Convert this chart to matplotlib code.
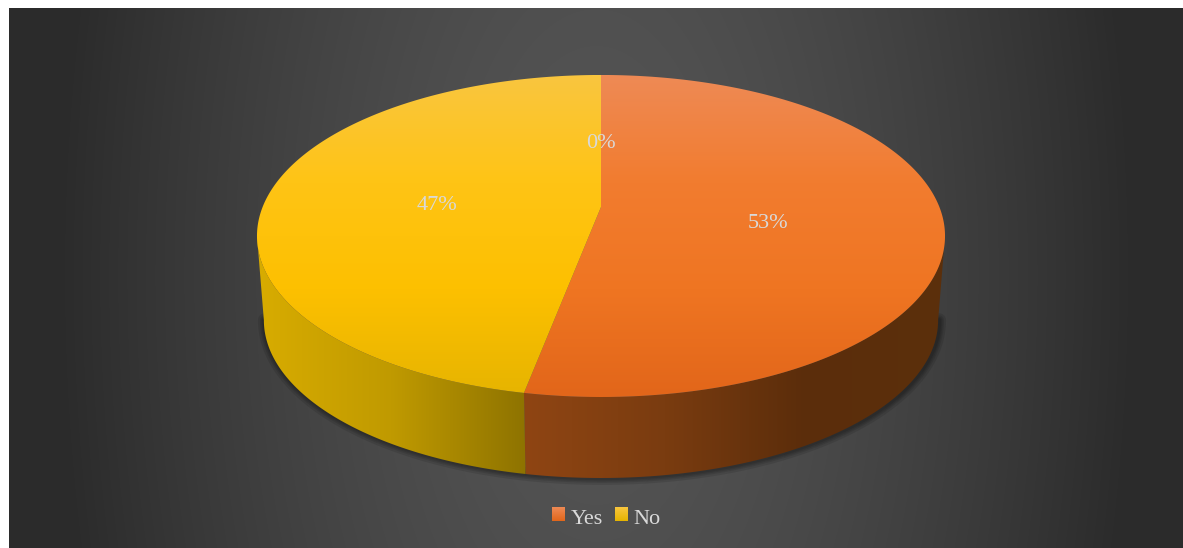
import numpy as np
import matplotlib.pyplot as plt
from matplotlib.colors import LinearSegmentedColormap
from matplotlib.patches import Polygon, Rectangle

categories = ["Yes", "No", ""]
values = [53, 47, 0]

top_colors = [["#EE8A55", "#F27C2F", "#EF7522", "#E2661A"],
              ["#F9C63F", "#FFC415", "#FDC000", "#E6B400"]]
side_colors = [["#8F4513", "#7A3C10", "#5B2D0B", "#5C300C"],
               ["#D8AC00", "#C09A00", "#8E7300"]]
text_color = "#D9D9D9"

W, H = 1183, 548
cx, cy = 601, 207
a, b, k = 338.4, 155.8, 0.18
depth, shrink = 84.8, 0.98

plt.rcParams['font.family'] = ['Liberation Serif', 'DejaVu Serif']
fig = plt.figure(figsize=[W / 100, H / 100], dpi=100, facecolor="white")
ax = fig.add_axes([0, 0, 1, 1])
ax.axis("off")


def rim(t):
    # t in degrees, clockwise from the far side of the disc
    t = np.radians(t)
    w = 1 + k * np.cos(t)
    return cx + a * np.sin(t) / w, cy - b * np.cos(t) / w


def lower_rim(t):
    x, y = rim(t)
    return cx + (x - cx) * shrink, cy + (y - cy) * shrink + depth


def fill(poly, colors, horizontal, span):
    cmap = LinearSegmentedColormap.from_list("g", colors)
    grad = np.linspace(0, 1, 256)
    if horizontal:
        img = ax.imshow(grad[None, :], cmap=cmap, aspect="auto",
                        extent=[span[0], span[1], H, 0], zorder=poly.get_zorder())
    else:
        img = ax.imshow(grad[:, None], cmap=cmap, aspect="auto",
                        extent=[0, W, span[1], span[0]], zorder=poly.get_zorder())
    ax.add_patch(poly)
    poly.set_visible(False)
    img.set_clip_path(poly)


# dark backdrop, lighter towards the middle
yy, xx = np.mgrid[0:H, 0:W]
r = np.hypot((xx - 596) / 540, (yy - 275) / 1100).clip(0, 1)
shade = (85 - 42 * r ** 1.5) / 255
ax.imshow(np.dstack([shade, shade, shade]), extent=[0, W, H, 0], aspect="auto", zorder=0)
ax.add_patch(Rectangle((0, 0), 9, H, color="white", lw=0, zorder=1))
ax.add_patch(Rectangle((0, 0), W, 8, color="white", lw=0, zorder=1))

t_right = np.degrees(np.arccos(-k))
t_left = 360 - t_right

# soft shadow under the disc
tt = np.linspace(t_right, t_left, 300)
sx, sy = lower_rim(tt)
for lw in (10, 7, 5, 3):
    ax.plot(sx + 1, sy, color="black", lw=lw, alpha=0.1, zorder=2, solid_capstyle="round")

edges = np.concatenate([[0], np.cumsum(values)]) / np.sum(values) * 360
for i in range(len(values)):
    t0, t1 = edges[i], edges[i + 1]
    if values[i] == 0:
        continue
    # outer wall, only the near part of the rim shows
    s0, s1 = max(t0, t_right), min(t1, t_left)
    tt = np.linspace(s0, s1, 200)
    x1, y1 = rim(tt)
    x2, y2 = lower_rim(tt)
    pts = np.vstack([np.column_stack([x1, y1]), np.column_stack([x2, y2])[::-1]])
    wall = Polygon(pts, closed=True, zorder=3, transform=ax.transData)
    fill(wall, side_colors[i], True, (pts[:, 0].min(), pts[:, 0].max()))

for i in range(len(values)):
    t0, t1 = edges[i], edges[i + 1]
    if values[i] == 0:
        continue
    tt = np.linspace(t0, t1, 300)
    x1, y1 = rim(tt)
    pts = np.vstack([[cx, cy], np.column_stack([x1, y1])])
    face = Polygon(pts, closed=True, zorder=4, transform=ax.transData)
    fill(face, top_colors[i], False, (75, 397))

# value labels
label_pos = [(768, 223), (437, 206), (601, 144)]
for v, (lx, ly) in zip(values, label_pos):
    ax.text(lx, ly, f"{v}%", color=text_color, fontsize=16, ha="center", va="center", zorder=6)

# legend
for name, col, sq_x, tx in zip(categories[:2], top_colors, [552, 615], [571, 633]):
    swatch = Rectangle((sq_x, 507), 13, 14, zorder=6, transform=ax.transData)
    fill(swatch, [col[0], col[3]], False, (507, 521))
    ax.text(tx, 519, name, color=text_color, fontsize=16, ha="left", va="center", zorder=6)

ax.set_xlim(0, W)
ax.set_ylim(H, 0)
fig.savefig("out.png", dpi=100)
